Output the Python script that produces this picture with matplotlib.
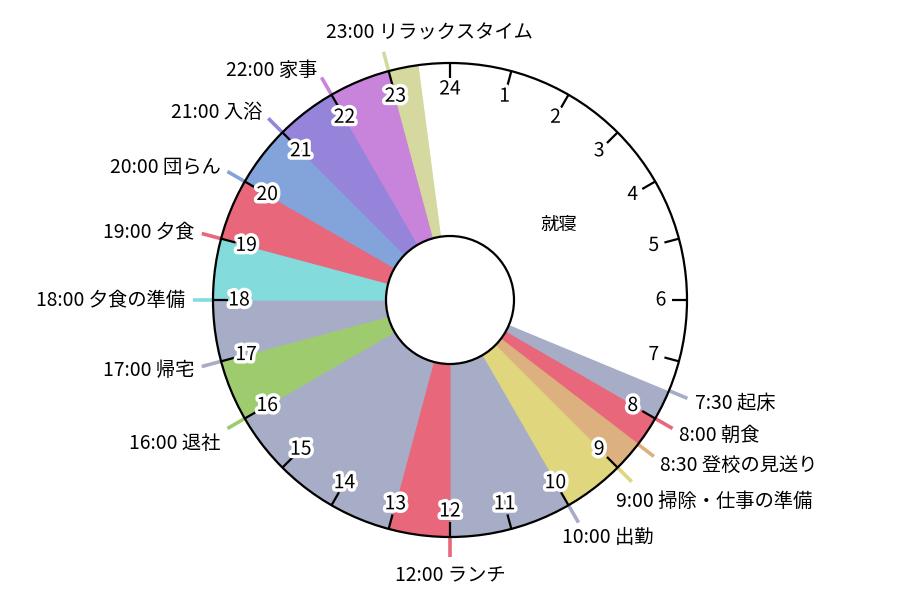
import numpy as np
import matplotlib
matplotlib.use('Agg')
import matplotlib.pyplot as plt
import matplotlib.patheffects as pe
from matplotlib.patches import Circle

plt.rcParams['font.family'] = ['Noto Sans CJK JP', 'DejaVu Sans']

# ---- data ----
start_hours = [7.5, 8, 8.5, 9, 10, 12, 13, 16, 17, 18, 19, 20, 21, 22, 23, 23.5]
activities = ['起床', '朝食', '登校の見送り', '掃除・仕事の準備', '出勤', 'ランチ', '',
              '退社', '帰宅', '夕食の準備', '夕食', '団らん', '入浴', '家事',
              'リラックスタイム', '就寝']
colors = ['#a7adc7', '#e9677a', '#dcb07f', '#e0d67e', '#a7adc7', '#e9677a', '#a7adc7',
          '#9fcb6f', '#a7adc7', '#83dbdb', '#e9677a', '#83a4da', '#9683da', '#c883da',
          '#d5d89f', '#ffffff']
hour_ticks = list(range(1, 25))
sleep_name = '就寝'

# ---- layout ----
CX, CY = 450, 300
R = 237
R_HUB = 64
FS = 13.9

fig = plt.figure(figsize=(9, 6), dpi=100)
ax = fig.add_axes([0, 0, 1, 1])

durations = np.diff(start_hours + [start_hours[0] + 24])
wedges, _ = ax.pie(durations, colors=colors, startangle=90 - start_hours[0] * 15,
                   counterclock=False, radius=R, center=(CX, CY),
                   wedgeprops=dict(linewidth=0.8), frame=True)
for w in wedges:
    w.set_edgecolor(w.get_facecolor())
    w.set_zorder(1)

ax.add_patch(Circle((CX, CY), R, fill=False, ec='black', lw=1.6, zorder=4))
ax.add_patch(Circle((CX, CY), R_HUB, fc='white', ec='black', lw=1.6, zorder=4))


def pt(hour, r):
    th = np.deg2rad(hour * 15)
    return CX + r * np.sin(th), CY + r * np.cos(th)


halo = [pe.withStroke(linewidth=5, foreground='white')]
for h in hour_ticks:
    x0, y0 = pt(h, R - 15)
    x1, y1 = pt(h, R)
    ax.plot([x0, x1], [y0, y1], color='black', lw=1.6, zorder=5, solid_capstyle='butt')
    xl, yl = pt(h, R - 26)
    ax.text(xl, yl, str(h), ha='center', va='center', fontsize=FS, zorder=6,
            path_effects=halo)


def fmt(h):
    return f"{int(h)}:{int(round((h % 1) * 60)):02d}"


# fractional alignment overrides (fx from left, fy from top)
align_override = {9.0: (0.11, -0.15), 10.0: (0.22, 0.1), 23.0: (0.27, 1.0), 16.0: (1.0, 0.0)}

labels = []
for h, name, col in zip(start_hours, activities, colors):
    if not name or name == sleep_name:
        continue
    x0, y0 = pt(h, R)
    x1, y1 = pt(h, R + 20)
    ax.plot([x0, x1], [y0, y1], color=col, lw=2.6, zorder=3, solid_capstyle='butt')
    px, py = pt(h, R + 28)
    th = np.deg2rad(h * 15)
    s, c = np.sin(th), np.cos(th)
    fx = 0.0 if s > 0.3 else (1.0 if s < -0.3 else 0.5)
    if abs(c) < 0.9:
        fy = 0.5 + (0.3 * c if c < 0 else 0.0)
    else:
        fy = 0.0 if c < 0 else 1.0
    if h in align_override:
        fx, fy = align_override[h]
    t = ax.text(px, py, f"{fmt(h)} {name}", ha='left', va='bottom', fontsize=FS, zorder=6)
    labels.append((t, px, py, fx, fy))

# sleep label inside
i_sleep = activities.index(sleep_name)
mid = start_hours[i_sleep] + durations[i_sleep] / 2
sx, sy = pt(mid, R * 0.58)
ax.text(sx, sy - 9, sleep_name, ha='center', va='center', fontsize=FS * 0.95, zorder=6)

ax.set_xlim(0, 900)
ax.set_ylim(0, 600)
ax.set_aspect('equal')
ax.axis('off')

fig.canvas.draw()
renderer = fig.canvas.get_renderer()
inv = ax.transData.inverted()
for t, px, py, fx, fy in labels:
    bb = t.get_window_extent(renderer)
    (xa, ya), (xb, yb) = inv.transform([[bb.x0, bb.y0], [bb.x1, bb.y1]])
    w, hgt = xb - xa, yb - ya
    t.set_position((px - fx * w, py - (1 - fy) * hgt))

fig.savefig('out.png', dpi=100, facecolor='white')
